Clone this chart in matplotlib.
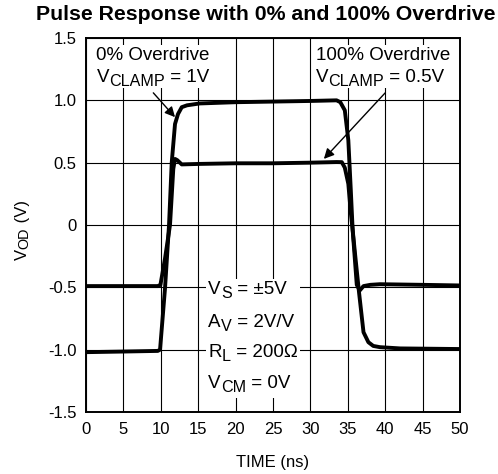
import matplotlib
matplotlib.use("Agg")
import matplotlib.pyplot as plt
from matplotlib.patches import Rectangle

plt.rcParams["font.family"] = ["Liberation Sans", "DejaVu Sans"]

# ── Data ────────────────────────────────────────────────────────────────────
# 0% overdrive, V_CLAMP = 1V
t_full = [0, 5, 9.6, 9.9, 10.56, 11.1, 11.46, 11.9, 12.3, 12.8, 13.5, 15.2, 20, 25,
          30, 33.5, 34.0, 34.6, 35.07, 35.4, 35.65, 36.0, 36.5, 37.1, 37.75,
          38.4, 39.3, 42, 50]
v_full = [-1.02, -1.015, -1.01, -1.0, -0.51, 0.0, 0.5, 0.81, 0.89, 0.945, 0.96, 0.975,
          0.985, 0.99, 0.995, 1.0, 0.985, 0.92, 0.68, 0.28, -0.04, -0.25, -0.54,
          -0.86, -0.94, -0.97, -0.98, -0.99, -0.995]

# 100% overdrive, V_CLAMP = 0.5V
t_half = [0, 5, 9.6, 9.95, 10.56, 11.23, 11.67, 11.9, 12.2, 12.8, 15.2, 20, 25, 30,
          33.5, 34.2, 34.6, 35.07, 35.4, 35.65, 36.2, 36.6, 37.1, 38.0, 39.3,
          45, 50]
v_half = [-0.49, -0.49, -0.49, -0.48, -0.27, 0.0, 0.45, 0.53, 0.52, 0.486, 0.49, 0.495,
          0.495, 0.5, 0.505, 0.504, 0.46, 0.33, 0.1, -0.04, -0.48, -0.525,
          -0.49, -0.48, -0.475, -0.48, -0.485]

x_ticks = [0, 5, 10, 15, 20, 25, 30, 35, 40, 45, 50]
y_ticks = [-1.5, -1.0, -0.5, 0, 0.5, 1.0, 1.5]
y_tick_labels = ["-1.5", "-1.0", "-0.5", "0", "0.5", "1.0", "1.5"]

# (main letter, subscript, rest)
conditions = [("V", "S", " = ±5V"),
              ("A", "V", " = 2V/V"),
              ("R", "L", " = 200Ω"),
              ("V", "CM", " = 0V")]
condition_y = [-0.52, -0.78, -1.02, -1.27]

FS = 13.5


def sub_text(ax, x, y, main, sub, rest, fs=FS):
    """Draw main + lowered subscript + rest as chained text pieces."""
    t1 = ax.text(x, y, main, ha="left", va="center", fontsize=fs, zorder=4)
    t2 = ax.annotate(sub, xy=(1, 0), xycoords=t1, xytext=(0, -2.2),
                     textcoords="offset points", fontsize=fs * 0.86,
                     ha="left", va="bottom", zorder=4)
    t3 = ax.annotate(rest, xy=(1, 0), xycoords=(t2, t1), ha="left",
                     va="bottom", fontsize=fs, zorder=4)
    return t3


# ── Figure ────────────────────────────────────────────────────────────────
fig = plt.figure(figsize=(4.98, 4.74), dpi=100)
ax = fig.add_axes([86 / 498, 1 - 412 / 474, 374 / 498, 374 / 474])

ax.set_xlim(0, 50)
ax.set_ylim(-1.5, 1.5)
ax.set_xticks(x_ticks)
ax.set_xticklabels([str(t) for t in x_ticks], fontsize=12)
ax.set_yticks(y_ticks)
ax.set_yticklabels(y_tick_labels, fontsize=12)
ax.tick_params(length=0, pad=7)
ax.grid(True, color="black", linewidth=0.8, zorder=0)
ax.set_axisbelow(True)
for side in ax.spines.values():
    side.set_linewidth(1.4)
    side.set_zorder(6)

# white boxes behind the annotation text (hide the grid)
for (x0, y0, w, h) in [(0.3, 1.10, 18.3, 0.34), (30.8, 1.10, 19.0, 0.34),
                       (16.05, -1.39, 12.55, 0.96)]:
    ax.add_patch(Rectangle((x0, y0), w, h, facecolor="white", edgecolor="none",
                           zorder=1))

ax.plot(t_full, v_full, color="black", linewidth=2.8, zorder=3,
        solid_joinstyle="round")
ax.plot(t_half, v_half, color="black", linewidth=2.8, zorder=3,
        solid_joinstyle="round")

ax.text(1.4, 1.36, "0% Overdrive", fontsize=FS, va="center", ha="left", zorder=4)
sub_text(ax, 1.4, 1.185, "V", "CLAMP", " = 1V")
ax.text(30.7, 1.36, "100% Overdrive", fontsize=FS, va="center", ha="left", zorder=4)
sub_text(ax, 30.7, 1.185, "V", "CLAMP", " = 0.5V")

ax.annotate("", xy=(11.9, 0.865), xytext=(9.0, 1.06),
            arrowprops=dict(arrowstyle="-|>", color="black", linewidth=1,
                            mutation_scale=15, shrinkA=0, shrinkB=0), zorder=5)
ax.annotate("", xy=(31.8, 0.53), xytext=(40.0, 1.06),
            arrowprops=dict(arrowstyle="-|>", color="black", linewidth=1,
                            mutation_scale=15, shrinkA=0, shrinkB=0), zorder=5)

for (m, s, r), yv in zip(conditions, condition_y):
    sub_text(ax, 16.35, yv, m, s, r)

fig.text(266 / 498, 1 - 15 / 474, "Pulse Response with 0% and 100% Overdrive",
         fontsize=15.3, fontweight="bold", ha="center", va="center")
fig.text(273 / 498, 1 - 462 / 474, "TIME (ns)", fontsize=12, ha="center", va="center")

# y label: V_OD (V), rotated, built from pieces
yl1 = fig.text(22 / 498, 1 - 260 / 474, "V", fontsize=12, rotation=90,
               ha="center", va="bottom")
yl2 = fig.text(0, 0, "OD", fontsize=12 * 0.86, rotation=90, ha="center", va="bottom")
yl3 = fig.text(0, 0, " (V)", fontsize=12, rotation=90, ha="center", va="bottom")
fig.canvas.draw()
r = fig.canvas.get_renderer()
inv = fig.transFigure.inverted()
b1 = yl1.get_window_extent(r)
yl2.set_position(inv.transform((b1.x0 + b1.width / 2 + 2.5, b1.y1)))
fig.canvas.draw()
b2 = yl2.get_window_extent(r)
yl3.set_position(inv.transform((b1.x0 + b1.width / 2, b2.y1)))

fig.savefig("out.png", dpi=100, facecolor="white")
